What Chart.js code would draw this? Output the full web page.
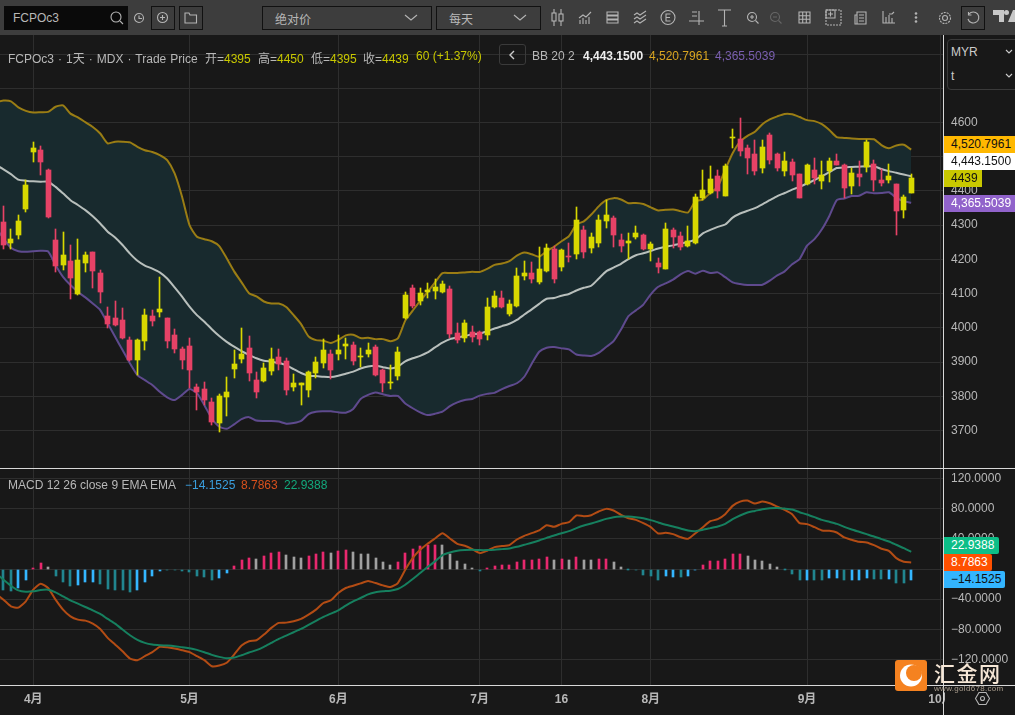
<!DOCTYPE html>
<html>
<head>
<meta charset="utf-8">
<title>FCPOc3</title>
<script src="https://cdn.jsdelivr.net/npm/chart.js@4"></script>
<style>
  html, body { margin: 0; padding: 0; background: #181818; }
  #page { position: relative; width: 1015px; height: 715px; overflow: hidden; background: #181818;
    font: 12px "Liberation Sans", "Noto Sans CJK SC", sans-serif; color: #b8b8b8; }
  canvas { position: absolute; left: 0; display: block; }
  #toolbar { position: absolute; left: 0; top: 0; width: 1015px; height: 35px; background: #3d3d3d; }
  .abs { position: absolute; white-space: nowrap; }
  .box { position: absolute; box-sizing: border-box; border: 1px solid #111; top: 6px; height: 24px; }
  .tag { position: absolute; left: 944px; height: 17px; line-height: 17px; padding-left: 7px; box-sizing: border-box; color: #111; white-space: nowrap; }
  .line { position: absolute; background: #d8d8d8; }
  svg { position: absolute; overflow: visible; fill: none; stroke: #b4b4b4; stroke-width: 1.1; }
</style>
</head>
<body>
<div id="page">
  <canvas id="priceChart" width="1015" height="433" style="top:35px"></canvas>
  <canvas id="macdChart" width="1015" height="246" style="top:469px"></canvas>

  <div id="toolbar">
    <div class="abs" style="left:4px;top:6px;width:124px;height:24px;background:#0a0a0a"></div>
    <div class="abs" style="left:13px;top:11px;color:#b8b8b8">FCPOc3</div>
    <svg style="left:110px;top:11px" width="14" height="14"><circle cx="6" cy="6" r="5"/><path d="M10 10l3 3"/></svg>
    <svg style="left:134px;top:13px" width="11" height="11"><circle cx="5" cy="5" r="4.5"/><path d="M5 2.5V5.5H8"/></svg>
    <div class="box" style="left:151px;width:24px"></div>
    <svg style="left:157px;top:12px" width="12" height="12"><circle cx="5.5" cy="5.5" r="5"/><path d="M3 5.5h5M5.5 3v5"/></svg>
    <div class="box" style="left:179px;width:24px"></div>
    <svg style="left:185px;top:13px" width="12" height="10"><path d="M0 0h4l1 2h6.500v8H0z"/></svg>
    <div class="box" style="left:262px;width:170px"></div>
    <div class="abs" style="left:275px;top:10px">绝对价</div>
    <svg style="left:405px;top:15px" width="12" height="6"><path d="M0 0l6 5 6-5"/></svg>
    <div class="box" style="left:436px;width:105px"></div>
    <div class="abs" style="left:449px;top:10px">每天</div>
    <svg style="left:514px;top:15px" width="12" height="6"><path d="M0 0l6 5 6-5"/></svg>
    <svg style="left:551px;top:9px" width="13" height="17"><path d="M3 0v17M10 0v17"/><rect x="1" y="4" width="4" height="8" fill="#3d3d3d"/><rect x="8" y="5" width="4" height="7" fill="#3d3d3d"/></svg>
    <svg style="left:579px;top:12px" width="12" height="12"><path d="M0 6l4-3 3 2 5-5M1 12V8M4 12V6M7 12V8M10 12V5"/></svg>
    <svg style="left:607px;top:11px" width="12" height="13"><path d="M0 1h11v3H0zM0 5h11v3H0zM0 9h11v3H0z"/></svg>
    <svg style="left:634px;top:11px" width="13" height="13"><path d="M0 4l3-2 3 2 3-2 3-2M0 8l3-2 3 2 3-2 3-2M0 12l3-2 3 2 3-2 3-2"/></svg>
    <svg style="left:661px;top:10px" width="15" height="15"><circle cx="7" cy="7.500" r="7"/><path d="M9.500 4H5v7h4.500M5 7.500h4"/></svg>
    <svg style="left:689px;top:11px" width="15" height="14"><path d="M0 10h15M10 0v14M3 1h5M3 5h5"/></svg>
    <svg style="left:718px;top:10px" width="13" height="16"><path d="M0 0h13M6.500 0v16M4 16h5"/></svg>
    <svg style="left:747px;top:12px" width="12" height="12"><circle cx="5" cy="5" r="4.500"/><path d="M8.500 8.500l3 3M3 5h4M5 3v4"/></svg>
    <svg style="left:770px;top:12px;stroke:#666" width="12" height="12"><circle cx="5" cy="5" r="4.500"/><path d="M8.500 8.500l3 3M3 5h4"/></svg>
    <svg style="left:799px;top:12px" width="11" height="12"><path d="M0 0h11v11H0zM0 3.700h11M0 7.300h11M3.700 0v11M7.300 0v11"/></svg>
    <svg style="left:826px;top:10px" width="15" height="15"><path d="M0 0h15v15H0z" stroke-dasharray="2 1"/><path d="M0 0h9v8H0zM2 4h5M4.500 1.500v5"/></svg>
    <svg style="left:855px;top:12px" width="12" height="12"><path d="M2 0h9v12H0V3h2zM2 12V0M4 3h5M4 6h5M4 9h5"/></svg>
    <svg style="left:883px;top:11px" width="12" height="13"><path d="M0 0v12h12M3 12V6M6 12V4M9 12V7M6 3l3 0 2-2"/></svg>
    <svg style="left:914px;top:12px;stroke:none;fill:#b4b4b4" width="4" height="11"><circle cx="2" cy="1.500" r="1.300"/><circle cx="2" cy="5.500" r="1.300"/><circle cx="2" cy="9.500" r="1.300"/></svg>
    <svg style="left:939px;top:12px" width="12" height="12"><circle cx="6" cy="6" r="5.500" stroke-dasharray="2 1"/><circle cx="6" cy="6" r="2.500"/></svg>
    <div class="box" style="left:961px;width:24px"></div>
    <svg style="left:967px;top:12px" width="12" height="12"><path d="M2 2A5.500 5.500 0 1 1 1 7M1.500 0v3h3"/></svg>
    <svg style="left:993px;top:10px;stroke:none;fill:#c8c8c8" width="22" height="12"><path d="M0 0h11v12H6V5H0zM15 12l5-12h5v12z"/><circle cx="13.500" cy="2.500" r="2.500"/></svg>
  </div>

  <div class="abs" style="left:8px;top:49px;word-spacing:0.7px">FCPOc3 · 1天 · MDX · Trade Price</div>
  <div class="abs" style="left:205px;top:49px">开=<span style="color:#c8c800">4395</span></div>
  <div class="abs" style="left:258px;top:49px">高=<span style="color:#c8c800">4450</span></div>
  <div class="abs" style="left:311px;top:49px">低=<span style="color:#c8c800">4395</span></div>
  <div class="abs" style="left:363px;top:49px">收=<span style="color:#c8c800">4439</span></div>
  <div class="abs" style="left:416px;top:49px;color:#c8c800">60 (+1.37%)</div>
  <div class="abs" style="left:499px;top:44px;width:27px;height:21px;box-sizing:border-box;border:1px solid #3a3a3a;border-radius:3px"></div>
  <svg style="left:510px;top:51px;stroke:#ccc;stroke-width:1.400" width="5" height="8"><path d="M4 0L0 4l4 4"/></svg>
  <div class="abs" style="left:532px;top:49px">BB 20 2</div>
  <div class="abs" style="left:583px;top:49px;color:#eee;font-weight:bold">4,443.1500</div>
  <div class="abs" style="left:649px;top:49px;color:#d9a520">4,520.7961</div>
  <div class="abs" style="left:715px;top:49px;color:#7a5fb0">4,365.5039</div>

  <div class="abs" style="left:8px;top:478px">MACD 12 26 close 9 EMA EMA</div>
  <div class="abs" style="left:185px;top:478px;color:#3aa0e0">−14.1525</div>
  <div class="abs" style="left:241px;top:478px;color:#d8501c">8.7863</div>
  <div class="abs" style="left:284px;top:478px;color:#12a87c">22.9388</div>

  <div class="abs" style="left:945px;top:35px;width:70px;height:58px;background:#181818"></div>
  <div class="abs" style="left:947px;top:39px;width:80px;height:51px;box-sizing:border-box;border:1px solid #3a3a3a;border-radius:4px"></div>
  <div class="abs" style="left:951px;top:45px;color:#ccc">MYR</div>
  <div class="abs" style="left:951px;top:69px;color:#ccc">t</div>
  <svg style="left:1006px;top:50px;stroke:#ccc" width="6" height="4"><path d="M0 0l3 3 3-3"/></svg>
  <svg style="left:1006px;top:74px;stroke:#ccc" width="6" height="4"><path d="M0 0l3 3 3-3"/></svg>

  <div class="tag" style="top:136px;width:71px;background:#ffb800">4,520.7961</div>
  <div class="tag" style="top:153px;width:71px;background:#ffffff">4,443.1500</div>
  <div class="tag" style="top:170px;width:38px;background:#c9c800">4439</div>
  <div class="tag" style="top:195px;width:71px;background:#9163cb;color:#fff">4,365.5039</div>
  <div class="tag" style="top:537px;width:55px;background:#0cbe87;color:#fff;border-radius:0 2px 2px 0">22.9388</div>
  <div class="tag" style="top:554px;width:48px;background:#ff5000;color:#fff;border-radius:0 2px 2px 0">8.7863</div>
  <div class="tag" style="top:571px;width:61px;background:#33b5ff;border-radius:0 2px 2px 0">−14.1525</div>

  <div class="abs" style="left:945px;top:686px;width:70px;height:29px;background:#181818"></div>
  <svg style="left:975px;top:692px" width="15" height="14"><path d="M4 0.500h7l3.500 6-3.500 6H4l-3.500-6z"/><circle cx="7.500" cy="6.500" r="2"/></svg>
  <div class="line" style="left:0;top:468px;width:1015px;height:1px"></div>
  <div class="line" style="left:0;top:685px;width:1015px;height:1px"></div>
  <div class="line" style="left:943px;top:35px;width:1px;height:680px"></div>

  <svg style="left:895px;top:660px;stroke:none" width="32" height="31">
    <rect width="32" height="31" rx="3" fill="#f58220"/>
    <circle cx="16" cy="15.500" r="11" fill="#fff"/>
    <circle cx="19" cy="13" r="8" fill="#f58220"/>
    <path d="M8 6A11 11 0 0 0 5 15l-1-2z" fill="#f58220"/>
  </svg>
  <div class="abs" style="left:934px;top:657px;font:500 21px 'Noto Sans CJK SC';letter-spacing:1.500px;color:#f6e7d6">汇金网</div>
  <div class="abs" style="left:934px;top:684px;font-size:8px;letter-spacing:0.3px;color:#a89c8c">www.gold678.com</div>
</div>

<script>
const opens = [4309,4248,4271,4347,4513,4521,4461,4256,4183,4195,
  4099,4189,4223,4160,4034,4028,4023,3964,3906,3961,
  4034,4046,4028,3979,3938,3947,3827,3821,3783,3722,
  3798,3879,3909,3941,3847,3844,3873,3914,3903,3827,
  3833,3818,3868,3897,3923,3923,3947,3950,3915,3923,
  3944,3876,3838,3859,4028,4116,4078,4104,4107,4104,
  4113,3985,3970,3987,3987,3978,4062,4086,4039,4065,
  4150,4159,4135,4165,4229,4179,4211,4217,4287,4232,
  4249,4313,4322,4258,4249,4264,4270,4229,4188,4173,
  4287,4267,4240,4249,4378,4395,4444,4386,4555,4552,
  4526,4508,4468,4563,4508,4459,4485,4450,4421,4462,
  4430,4459,4488,4476,4413,4450,4470,4479,4433,4433,
  4421,4343,4395];
const highs = [4356,4288,4329,4433,4543,4531,4463,4290,4279,4242,
  4259,4223,4223,4168,4060,4078,4058,3972,3967,4055,
  4052,4148,4028,3996,3944,3970,3836,3841,3795,3806,
  3856,3936,3999,3976,3870,3896,3941,3938,3911,3865,
  3838,3873,3914,3967,3935,3979,3970,3958,3941,3955,
  3950,3879,3891,3944,4104,4125,4116,4131,4142,4137,
  4122,4014,4023,4004,3990,4086,4109,4109,4080,4176,
  4194,4191,4235,4246,4240,4229,4249,4354,4299,4278,
  4331,4375,4328,4273,4278,4299,4273,4252,4205,4305,
  4293,4281,4299,4392,4462,4473,4462,4479,4581,4612,
  4534,4549,4549,4569,4511,4514,4494,4450,4479,4497,
  4488,4497,4508,4479,4468,4488,4549,4491,4465,4479,
  4421,4389,4450];
const lows = [4231,4231,4260,4338,4485,4446,4322,4164,4169,4084,
  4096,4164,4117,4073,4000,4005,3967,3903,3862,3935,
  4005,4031,3941,3926,3879,3823,3760,3774,3716,3696,
  3742,3853,3897,3844,3795,3841,3863,3876,3803,3815,
  3774,3797,3853,3882,3850,3906,3909,3891,3885,3914,
  3860,3812,3821,3847,4026,4058,4066,4087,4084,4102,
  3969,3955,3958,3960,3949,3963,4057,4057,4034,4060,
  4141,4130,4127,4163,4130,4165,4191,4200,4205,4220,
  4235,4293,4235,4223,4200,4261,4226,4194,4159,4172,
  4232,4226,4237,4246,4375,4392,4378,4385,4526,4502,
  4450,4447,4453,4479,4459,4444,4430,4378,4418,4421,
  4407,4427,4475,4378,4392,4415,4456,4401,4415,4424,
  4270,4320,4395];
const closes = [4242,4259,4312,4417,4525,4484,4324,4181,4212,4146,
  4198,4212,4166,4104,4011,4007,3969,3906,3964,4037,
  4020,4055,3961,3938,3906,3876,3812,3789,3725,3801,
  3812,3894,3923,3868,3812,3882,3909,3894,3818,3838,
  3838,3871,3900,3935,3876,3935,3952,3903,3917,3935,
  3862,3838,3841,3929,4096,4063,4102,4110,4119,4128,
  3982,3964,4014,3972,3966,4062,4092,4060,4071,4150,
  4159,4144,4173,4232,4144,4226,4208,4316,4223,4264,
  4316,4331,4270,4240,4255,4278,4229,4246,4179,4290,
  4264,4237,4255,4383,4404,4436,4401,4473,4557,4517,
  4497,4459,4529,4491,4468,4488,4447,4378,4476,4439,
  4447,4488,4476,4410,4453,4442,4543,4433,4424,4444,
  4340,4381,4439];

// lead-in values: the bar just left of the visible window, so lines reach the pane edge
const upperLead = 4660;
const middleLead = 4476;
const lowerLead = 4292;
const macdLead = -33;
const signalLead = -6;

const upperBand = [4664,4662,4644,4634,4629,4630,4631,4646,4650,4626,
  4615,4601,4587,4568,4539,4544,4544,4542,4529,4519,
  4514,4505,4490,4451,4383,4300,4266,4259,4253,4239,
  4203,4165,4133,4101,4092,4077,4071,4071,4061,4037,
  4011,3975,3964,3962,3956,3965,3978,3980,3970,3971,
  3967,3967,3961,3969,4021,4050,4079,4104,4133,4160,
  4160,4160,4162,4164,4163,4172,4184,4188,4195,4211,
  4220,4215,4208,4224,4237,4253,4268,4302,4311,4331,
  4355,4373,4379,4375,4364,4365,4362,4352,4343,4345,
  4346,4341,4337,4370,4375,4394,4412,4462,4510,4544,
  4561,4573,4595,4609,4618,4625,4624,4616,4607,4604,
  4595,4578,4557,4555,4553,4552,4552,4551,4534,4525,
  4533,4535,4520.8];
const middleBand = [4463,4449,4433,4430,4428,4427,4427,4412,4393,4373,
  4359,4344,4326,4305,4281,4264,4242,4217,4196,4182,
  4173,4162,4144,4118,4091,4062,4037,4018,3996,3976,
  3959,3945,3932,3921,3911,3904,3901,3897,3891,3879,
  3868,3860,3859,3857,3856,3860,3866,3872,3881,3887,
  3889,3885,3881,3887,3902,3911,3918,3928,3943,3957,
  3967,3972,3976,3981,3983,3990,3998,4005,4012,4023,
  4039,4054,4070,4085,4087,4094,4099,4109,4117,4123,
  4144,4165,4176,4187,4201,4212,4218,4225,4232,4237,
  4241,4246,4251,4258,4276,4286,4295,4302,4322,4334,
  4342,4350,4361,4373,4385,4394,4404,4412,4422,4432,
  4443,4455,4467,4469,4470,4471,4472,4472,4464,4458,
  4453,4448,4443.15];
const lowerBand = [4261,4234,4224,4222,4224,4225,4223,4183,4149,4125,
  4105,4089,4071,4052,4013,3974,3935,3896,3862,3847,
  3833,3813,3797,3789,3804,3821,3809,3774,3735,3711,
  3705,3718,3733,3739,3729,3728,3728,3726,3720,3722,
  3728,3748,3755,3756,3756,3753,3752,3763,3792,3804,
  3811,3806,3801,3801,3779,3765,3753,3745,3749,3755,
  3771,3782,3789,3792,3802,3807,3810,3821,3830,3838,
  3857,3895,3930,3942,3944,3940,3937,3922,3919,3918,
  3927,3944,3961,3995,4034,4051,4068,4098,4120,4130,
  4141,4156,4166,4158,4167,4160,4162,4148,4133,4128,
  4125,4125,4126,4138,4153,4165,4186,4201,4240,4259,
  4288,4327,4373,4378,4385,4386,4396,4393,4394,4396,
  4380,4370,4365.5];

const macdLine = [-40.7,-49.5,-51.3,-42.9,-27.4,-19.4,-25.2,-40.7,-53.9,-62.8,
  -67.2,-68.5,-72.5,-79.6,-91.5,-100.3,-109.2,-118.9,-121.1,-115.8,
  -110.5,-103.4,-103.9,-105.6,-107.8,-110.5,-115.8,-121.1,-129.1,-128.2,
  -124.6,-113.6,-101.7,-95.9,-94.6,-87.1,-78.2,-71.6,-71.2,-69.4,
  -66.3,-60.6,-53.9,-45.1,-41.5,-31.8,-25.2,-22.1,-19,-15.9,
  -18.6,-21.7,-23.9,-18.6,-0.9,14.6,25.6,33.6,40.7,47.7,
  40.7,33.6,30.9,26.5,21.2,24.3,29.2,30.5,31.8,39.3,
  44.2,47.7,51.3,58.3,56.1,60.1,62.3,71.2,70.3,71.6,
  76.5,80,77.8,72,67.6,65.4,61,55.7,47.3,48.2,
  46.4,42.4,40.2,47.7,55.7,63.6,66.3,72.9,84,89.7,
  91,87,89.7,87.5,83,78.7,72.9,61,59.7,55.7,
  51.3,50.8,48.6,42,38.9,36.2,35.4,31.8,27,24.3,
  14.6,9.7,8.79];
const signalLine = [-14.1,-22.1,-28.3,-30.1,-29.6,-27.8,-27.4,-30.9,-36.2,-41.5,
  -46,-50.4,-54.8,-59.7,-66.3,-72.5,-80.4,-88,-94.1,-98.1,
  -100.3,-101.2,-101.7,-102.5,-103.9,-105.2,-107.4,-110.5,-114,-116.7,
  -118.5,-117.6,-114.5,-110.9,-107.8,-103.4,-98.1,-92.8,-88.4,-84,
  -79.6,-74.3,-68.9,-63.6,-59.2,-54.8,-48.6,-42.9,-38.5,-33.6,
  -30.9,-29.6,-28.7,-26.5,-20.8,-13.3,-5.3,2.7,10.2,18.6,
  22.1,24.3,25.2,25.6,25.2,25.2,25.6,26.5,27.4,29.6,
  32.3,34.9,38,41.5,44.6,47.7,50.4,54.4,57.9,60.6,
  63.6,66.7,69,69.8,69.8,69,67.6,65,61.9,58.8,
  56.6,53.9,51.3,50.4,52.2,54.4,56.6,60.1,66.3,71.2,
  75.1,77.3,79.6,80.9,81.3,80.4,79.1,75.6,72.5,69,
  65.4,62.8,60.1,56.1,52.6,49.5,46.4,43.3,39.8,36.7,
  32.3,27.8,22.94];
const histValues = [-28,-29.6,-25.2,-14.1,1.8,8.4,3.1,-9.7,-17.7,-23,
  -21.7,-17.7,-17.7,-19.4,-26,-27.4,-28.3,-30,-27.4,-17.7,
  -9.7,-2.2,-1.3,-1.8,-3.1,-4.4,-8.8,-11,-15,-11.5,
  -5.7,4.4,12.4,15,13.7,17.7,21.7,23,19,16.4,
  15,17.7,20.3,23,21.7,24.3,25.6,23,20.3,20.3,
  15,9.7,5.7,9.7,21.7,27,31,32.3,32.3,32.3,
  20.3,11,7,1.8,-3.1,1.8,4.4,5.7,5.7,9.7,
  12.4,12.4,13.7,16.4,12.4,13.7,12.4,16.4,12.4,12.4,
  13.7,13.7,9.7,3.1,-0.5,-1.8,-8,-8.8,-14.1,-9.7,
  -10.2,-11,-9.7,-1.8,5.7,11,11,13.7,20.3,20.3,
  17.7,12.4,11,7,3.1,-0.5,-6.2,-14.1,-14.1,-14.1,
  -14.1,-11.5,-11.5,-14.1,-14.1,-14.1,-11.5,-12.8,-12.8,-12.8,
  -18.1,-18.1,-14.15];
// one letter per bar: t teal, b blue, p pink, g grey
const histShades = ['t','t','b','b','p','p','g','t','t','t',
  'b','b','b','t','t','t','t','t','b','b',
  'b','b','t','t','t','t','t','t','t','b',
  'b','p','p','p','g','p','p','p','g','g',
  'g','p','p','p','g','p','p','g','g','g',
  'g','g','g','p','p','p','p','p','p','g',
  'g','g','g','g','t','p','p','p','p','p',
  'p','p','p','p','g','p','g','p','g','g',
  'p','p','g','g','t','t','t','t','t','b',
  'b','t','b','b','p','p','p','p','p','p',
  'g','g','g','g','g','t','t','t','b','t',
  't','b','b','t','b','b','b','t','t','b',
  't','t','b'];

const priceTicks = [3700,3800,3900,4000,4100,4200,4300,4400,4500,4600,4700,4800];
const macdTicks = [-120,-80,-40,0,40,80,120];
const timeTicks = [4,25,45,64,75,87,108,126];
const timeLabels = ['4月','5月','6月','7月','16','8月','9月','10月'];

const barIndex = opens.map((_, index) => index);
const GRID = '#2e2e2e';
const AXIS_TEXT = '#b8b8b8';
const UP = '#d8d800';
const DOWN = '#e64266';
const SHADES = { t: '#21858f', b: '#34b6ff', p: '#e8286e', g: '#a0a0a0' };
const X_MIN = -0.47;
const X_MAX = 126.41;

// snap bars to whole pixels so thin wicks and histogram stay crisp
const snapBars = {
  id: 'snapBars',
  beforeDatasetsDraw(chart) {
    chart.data.datasets.forEach((dataset, index) => {
      if (dataset.type !== 'bar') return;
      const odd = dataset.barThickness % 2 === 1;
      chart.getDatasetMeta(index).data.forEach(bar => {
        bar.x = odd ? Math.floor(bar.x) + 0.5 : Math.round(bar.x);
        bar.y = Math.round(bar.y);
        bar.base = Math.round(bar.base);
        bar.height = bar.base - bar.y;
      });
    });
  }
};

function clearPadding(scale) {
  scale.paddingLeft = scale.paddingRight = scale.paddingTop = scale.paddingBottom = 0;
}

function xAxis(showLabels) {
  return {
    type: 'linear',
    offset: false,
    min: X_MIN,
    max: X_MAX,
    afterBuildTicks: scale => { scale.ticks = timeTicks.map(value => ({ value })); },
    afterFit: scale => { scale.height = showLabels ? 30 : 0; clearPadding(scale); },
    grid: { color: GRID, drawTicks: false, offset: false },
    border: { display: false },
    ticks: {
      display: showLabels,
      maxRotation: 0,
      autoSkip: false,
      padding: 7,
      color: AXIS_TEXT,
      font: { family: '"Liberation Sans","Noto Sans CJK SC"', size: 12, weight: 'bold' },
      callback: value => timeLabels[timeTicks.indexOf(value)]
    }
  };
}

function yAxis(min, max, ticks, format) {
  return {
    position: 'right',
    min,
    max,
    afterBuildTicks: scale => { scale.ticks = ticks.map(value => ({ value })); },
    afterFit: scale => { scale.width = 71; clearPadding(scale); },
    grid: { color: GRID, drawTicks: false },
    border: { display: false },
    ticks: {
      padding: 7,
      color: AXIS_TEXT,
      autoSkip: false,
      font: { family: '"Liberation Sans"', size: 12 },
      callback: format
    }
  };
}

function bandLine(label, lead, values, color, extra) {
  return Object.assign({
    type: 'line', label,
    data: [{ x: -1, y: lead }].concat(values.map((y, i) => ({ x: barIndex[i], y }))),
    borderColor: color, borderWidth: 2, pointRadius: 0, tension: 0.2, fill: false
  }, extra);
}

const candleColors = barIndex.map(i => closes[i] >= opens[i] ? UP : DOWN);

const sharedOptions = {
  responsive: false,
  animation: false,
  events: [],
  layout: { padding: 0 },
  plugins: { legend: { display: false }, tooltip: { enabled: false } }
};

new Chart(document.getElementById('priceChart'), {
  data: {
    datasets: [
      // the band fill is painted with the upper line, so that line goes down first
      bandLine('Upper', upperLead, upperBand, '#9a7d14', { order: 7, fill: { target: '+2' }, backgroundColor: '#182a2e' }),
      bandLine('Middle', middleLead, middleBand, '#b8bfbc', { order: 5 }),
      bandLine('Lower', lowerLead, lowerBand, '#5f4a8e', { order: 6 }),
      {
        type: 'bar', label: 'Wick', order: 2, grouped: false, barThickness: 1,
        data: barIndex.map(i => ({ x: i, y: [lows[i], highs[i]] })),
        backgroundColor: candleColors
      },
      {
        type: 'bar', label: 'Body', order: 1, grouped: false, barThickness: 5, minBarLength: 1,
        data: barIndex.map(i => ({ x: i, y: [opens[i], closes[i]] })),
        backgroundColor: candleColors
      }
    ]
  },
  options: Object.assign({}, sharedOptions, {
    scales: {
      x: xAxis(false),
      y: yAxis(3590.4, 4855.7, priceTicks, value => String(value))
    }
  }),
  plugins: [snapBars]
});

new Chart(document.getElementById('macdChart'), {
  data: {
    datasets: [
      bandLine('MACD', macdLead, macdLine, '#b34c14', { order: 2 }),
      bandLine('Signal', signalLead, signalLine, '#16805f', { order: 1 }),
      {
        type: 'bar', label: 'Histogram', order: 3, grouped: false, barThickness: 2,
        data: barIndex.map(i => ({ x: i, y: histValues[i] })),
        backgroundColor: barIndex.map(i => SHADES[histShades[i]])
      }
    ]
  },
  options: Object.assign({}, sharedOptions, {
    scales: {
      x: xAxis(true),
      y: yAxis(-154.1, 133, macdTicks, value => (value < 0 ? '−' : '') + Math.abs(value).toFixed(4))
    }
  }),
  plugins: [snapBars]
});
</script>
</body>
</html>
